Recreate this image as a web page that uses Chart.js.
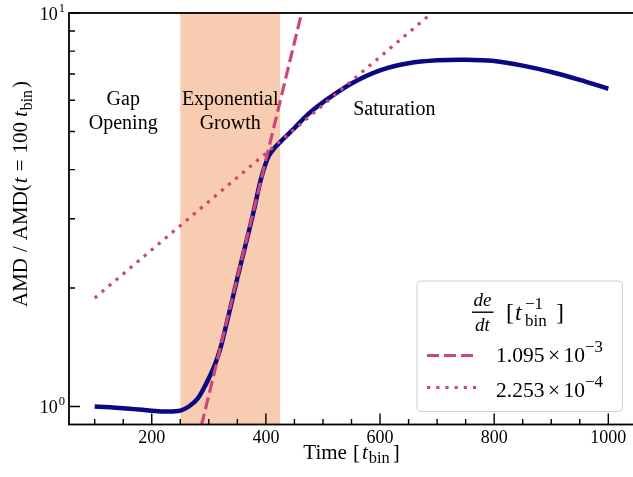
<!DOCTYPE html>
<html>
<head>
<meta charset="utf-8">
<script src="https://cdn.jsdelivr.net/npm/chart.js@4.4.1/dist/chart.umd.min.js"></script>
<style>
  html, body { margin: 0; padding: 0; background: #fff; overflow: hidden; }
  #wrap { width: 636px; height: 477px; }
</style>
</head>
<body>
<div id="wrap"><canvas id="amdChart" width="636" height="477"></canvas></div>
<script>
// AMD curve, normalised to t = 100 t_bin
const timeValues = [100, 150, 200, 225, 250, 265, 280, 295, 310, 320, 330, 340, 350, 360, 370, 380, 390, 398, 405, 415, 430, 450, 475, 500, 550, 600, 650, 700, 750, 800, 850, 900, 950, 1000];
const amdValues = [1.00, 0.99, 0.976, 0.971, 0.976, 1.00, 1.045, 1.14, 1.27, 1.40, 1.60, 1.84, 2.12, 2.43, 2.78, 3.20, 3.72, 4.08, 4.33, 4.54, 4.78, 5.10, 5.55, 5.93, 6.62, 7.15, 7.45, 7.58, 7.61, 7.55, 7.35, 7.08, 6.76, 6.42];

// exponential fits (straight lines in log space)
const fastFitX = [280, 470];
const fastFitY = [0.812, 11.09];
const slowFitX = [100, 700];
const slowFitY = [1.887, 10.26];
const fitMantissa = ['1.095', '2.253'];
const fitExponent = ['\u22123', '\u22124'];

// exponential growth phase
const phaseStart = 250;
const phaseEnd = 425;

const xTicks = [200, 400, 600, 800, 1000];
const yTicks = [1, 10];

const serif = '"Liberation Serif", "Times New Roman", serif';
const pink = '#cc4778';
const navy = '#0a0883';

function fnt(size, italic) {
  return (italic ? 'italic ' : '') + size + 'px ' + serif;
}

// draw a run of text with italic / sub / sup pieces
function drawRich(ctx, segs, x, y, size, align, small) {
  small = small || 0.7;
  let w = 0;
  const parts = segs.map(s => {
    const sz = (s.sub || s.sup) ? size * small : size;
    ctx.font = fnt(sz, s.it);
    const pw = ctx.measureText(s.t).width + (s.gap || 0);
    w += pw;
    return Object.assign({}, s, { sz: sz, w: pw });
  });
  let cx = align === 'center' ? x - w / 2 : (align === 'right' ? x - w : x);
  ctx.textAlign = 'left';
  ctx.textBaseline = 'alphabetic';
  parts.forEach(p => {
    ctx.font = fnt(p.sz, p.it);
    const dy = p.sub ? size * 0.22 : (p.sup ? -size * 0.42 : 0);
    ctx.fillText(p.t, cx + (p.gap || 0), y + dy);
    cx += p.w;
  });
  return w;
}

const phaseShade = {
  id: 'phaseShade',
  beforeDatasetsDraw(chart) {
    const { ctx, chartArea: a, scales: { x } } = chart;
    const x0 = x.getPixelForValue(phaseStart);
    const x1 = x.getPixelForValue(phaseEnd);
    ctx.save();
    ctx.fillStyle = '#f8ccb0';
    ctx.fillRect(x0, a.top, x1 - x0, a.bottom - a.top);
    ctx.restore();
  }
};

const axesDecor = {
  id: 'axesDecor',
  afterDraw(chart) {
    const { ctx, chartArea: a, scales: { x, y } } = chart;
    ctx.save();
    ctx.fillStyle = '#000';

    // phase labels
    ctx.font = fnt(20);
    ctx.textAlign = 'center';
    ctx.textBaseline = 'alphabetic';
    const gx = x.getPixelForValue(150), ex = x.getPixelForValue((phaseStart + phaseEnd) / 2);
    ctx.fillText('Gap', gx, 105);
    ctx.fillText('Opening', gx, 129);
    ctx.fillText('Exponential', ex, 105);
    ctx.fillText('Growth', ex, 129);
    ctx.fillText('Saturation', x.getPixelForValue(625), 115);

    // frame
    ctx.strokeStyle = '#000';
    ctx.lineWidth = 1.8;
    ctx.strokeRect(a.left, a.top, a.right - a.left, a.bottom - a.top);

    // inward ticks
    ctx.lineWidth = 1.4;
    ctx.beginPath();
    for (let v = 50; v <= 1050; v += 50) {
      if (v < x.min || v > x.max) continue;
      const px = x.getPixelForValue(v);
      const len = xTicks.includes(v) ? 11 : 5.5;
      ctx.moveTo(px, a.bottom);
      ctx.lineTo(px, a.bottom - len);
    }
    [1, 2, 3, 4, 5, 6, 7, 8, 9, 10].forEach(v => {
      const py = y.getPixelForValue(v);
      const len = yTicks.includes(v) ? 11 : 6;
      ctx.moveTo(a.left, py);
      ctx.lineTo(a.left + len, py);
    });
    ctx.stroke();

    // y tick labels 10^n
    yTicks.forEach(v => {
      const py = y.getPixelForValue(v);
      drawRich(ctx, [{ t: '10' }, { t: String(Math.round(Math.log10(v))), sup: true, gap: 1 }], 65, py + 6.5, 18, 'right');
    });

    // axis titles
    drawRich(ctx, [{ t: 'Time' }, { t: '[', gap: 6 }, { t: 't', it: true, gap: 2 }, { t: 'bin', sub: true, gap: 1 }, { t: ']', gap: 3 }], (a.left + a.right) / 2, 458.5, 21, 'center', 0.78);
    ctx.save();
    ctx.translate(27, 194);
    ctx.rotate(-Math.PI / 2);
    drawRich(ctx, [{ t: 'AMD' }, { t: '/', gap: 6 }, { t: 'AMD(', gap: 6 }, { t: 't', it: true, gap: 1 }, { t: '=', gap: 6 }, { t: '100', gap: 6 }, { t: 't', it: true, gap: 5 }, { t: 'bin', sub: true, gap: 1 }, { t: ')', gap: 2 }], 0, 0, 21, 'center', 0.75);
    ctx.restore();

    // legend box
    const bx = 417, by = 281, bw = 205.5, bh = 130.5;
    ctx.beginPath();
    ctx.roundRect(bx, by, bw, bh, 4);
    ctx.fillStyle = 'rgba(255,255,255,0.8)';
    ctx.fill();
    ctx.strokeStyle = '#d0d0d0';
    ctx.lineWidth = 1;
    ctx.stroke();

    // legend title: de/dt [t_bin^-1]
    ctx.fillStyle = '#000';
    ctx.font = fnt(19, true);
    ctx.textAlign = 'center';
    ctx.fillText('de', 482.5, 306);
    ctx.fillText('dt', 482.5, 331);
    ctx.fillRect(472, 311.5, 21.5, 1.4);
    ctx.textAlign = 'left';
    ctx.font = fnt(24);
    ctx.fillText('[', 506, 320);
    ctx.font = fnt(24, true);
    ctx.fillText('t', 515, 320);
    ctx.font = fnt(17);
    ctx.fillText('bin', 525, 325.5);
    ctx.fillText('\u22121', 525, 309);
    ctx.font = fnt(24);
    ctx.fillText(']', 556, 320);

    // legend rows
    const rows = [{ ds: chart.data.datasets[1], y: 355.5, base: 361.5 }, { ds: chart.data.datasets[2], y: 387.5, base: 396.5 }];
    rows.forEach((r, i) => {
      ctx.save();
      ctx.strokeStyle = r.ds.borderColor;
      ctx.lineWidth = r.ds.borderWidth;
      ctx.setLineDash(r.ds.borderDash);
      ctx.beginPath();
      ctx.moveTo(427, r.y);
      ctx.lineTo(476, r.y);
      ctx.stroke();
      ctx.restore();
      ctx.fillStyle = '#000';
      drawRich(ctx, [{ t: fitMantissa[i] }, { t: '\u00d7', gap: 3.5 }, { t: '10', gap: 3.5 }, { t: fitExponent[i], sup: true }], 496, r.base, 21.5, 'left', 0.78);
    });
    ctx.restore();
  }
};

const ctx = document.getElementById('amdChart').getContext('2d');
new Chart(ctx, {
  type: 'line',
  data: {
    datasets: [
      {
        label: 'AMD',
        data: timeValues.map((t, i) => ({ x: t, y: amdValues[i] })),
        borderColor: navy,
        borderWidth: 4.5,
        pointRadius: 0,
        tension: 0.35,
        order: 3
      },
      {
        label: fitMantissa[0],
        data: fastFitX.map((t, i) => ({ x: t, y: fastFitY[i] })),
        borderColor: pink,
        borderWidth: 3.2,
        borderDash: [12, 5],
        pointRadius: 0,
        clip: 0,
        order: 2
      },
      {
        label: fitMantissa[1],
        data: slowFitX.map((t, i) => ({ x: t, y: slowFitY[i] })),
        borderColor: pink,
        borderWidth: 3.2,
        borderDash: [3.2, 6],
        pointRadius: 0,
        clip: 0,
        order: 1
      }
    ]
  },
  options: {
    responsive: false,
    devicePixelRatio: 1,
    animation: false,
    layout: { padding: { left: 0, top: 13, right: 2, bottom: 0 } },
    plugins: { legend: { display: false }, tooltip: { enabled: false } },
    scales: {
      x: {
        type: 'linear',
        min: 55,
        max: 1045,
        grid: { display: false, drawTicks: false },
        border: { display: false },
        ticks: { color: '#000', font: { family: serif, size: 18 }, padding: 3, callback: v => String(v) },
        afterBuildTicks: s => { s.ticks = xTicks.map(v => ({ value: v })); },
        afterFit: s => { s.height = 52.5; }
      },
      y: {
        type: 'logarithmic',
        min: 0.9,
        max: 10,
        grid: { display: false, drawTicks: false },
        border: { display: false },
        ticks: { display: false },
        afterFit: s => { s.width = 69; }
      }
    }
  },
  plugins: [phaseShade, axesDecor]
});
</script>
</body>
</html>
